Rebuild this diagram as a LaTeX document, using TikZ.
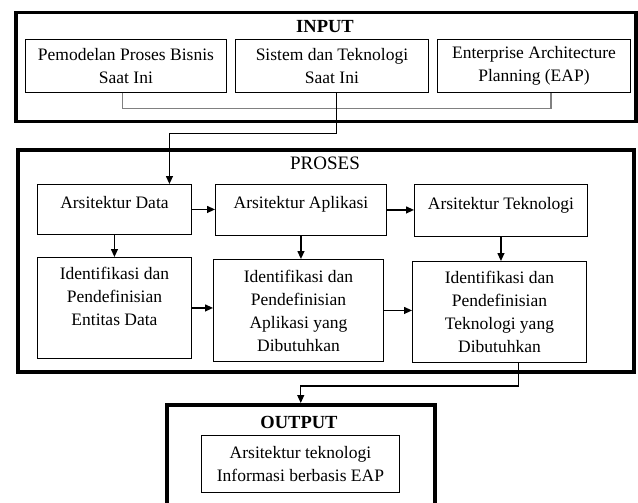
\documentclass[tikz,border=0pt]{standalone}
\usepackage{fontspec}
\setmainfont{Liberation Serif}
\usetikzlibrary{arrows.meta}

\tikzset{
  kotak/.style={draw, line width=0.9pt, align=center, inner sep=0pt, anchor=north west,
    font=\fontsize{17.5}{23}\selectfont},
  bingkai/.style={draw, line width=3.5pt, inner sep=0pt, anchor=north west},
  judul/.style={font=\fontsize{18.5}{22}\selectfont\bfseries},
  garis/.style={line width=1.2pt},
}

\begin{document}
\begin{tikzpicture}[x=1pt, y=-1pt, >={Triangle[length=8pt,width=7pt]}]
  \useasboundingbox (0,0) rectangle (638,503);
  \clip (0,0) rectangle (638,503);

  % input
  \node[bingkai, minimum width=620pt, minimum height=109pt] (input) at (14,11) {};
  \node[judul] (tInput) at (325,27) {INPUT};
  \node[kotak, minimum width=201pt, minimum height=53pt] (b1) at (25,39) {Pemodelan Proses Bisnis\\Saat Ini};
  \node[kotak, minimum width=193pt, minimum height=53pt] (b2) at (235,39) {Sistem dan Teknologi\\Saat Ini};
  \node[kotak, minimum width=193pt, minimum height=53pt] (b3) at (437,39) {Enterprise Architecture\\Planning (EAP)};

  % proses
  \node[bingkai, minimum width=616pt, minimum height=222pt] (proses) at (16,148) {};
  \node[font=\fontsize{19}{22}\selectfont] (tProses) at (325,163) {PROSES};
  \node[kotak, minimum width=154pt, minimum height=50pt] (AD) at (37,184) {Arsitektur Data\\[-8pt]~};
  \node[kotak, minimum width=171pt, minimum height=51pt] (AA) at (215,184) {Arsitektur Aplikasi\\[-8pt]~};
  \node[kotak, minimum width=173pt, minimum height=52pt] (AT) at (414,184) {Arsitektur Teknologi\\[-8pt]~};
  \node[kotak, minimum width=154pt, minimum height=101pt] (ED) at (37,257) {Identifikasi dan\\Pendefinisian\\Entitas Data\\~};
  \node[kotak, minimum width=170pt, minimum height=102pt] (AP) at (213,259) {Identifikasi dan\\Pendefinisian\\Aplikasi yang\\Dibutuhkan};
  \node[kotak, minimum width=174pt, minimum height=101pt] (TK) at (412,261) {Identifikasi dan\\Pendefinisian\\Teknologi yang\\Dibutuhkan};

  % output
  \node[bingkai, minimum width=268pt, minimum height=130pt] (output) at (165,403) {};
  \node[judul] (tOutput) at (299,422) {OUTPUT};
  \node[kotak, minimum width=198pt, minimum height=57pt] (hasil) at (201,435) {Arsitektur teknologi\\Informasi berbasis EAP};

  \draw[garis, gray] ([xshift=-3.5pt]b1.south) -- ++(0,16) -| ([xshift=17pt]b3.south);
  \draw[garis, ->] ([xshift=4.5pt]b2.south) -- ++(0,41) -| ([xshift=55pt]AD.north);

  \draw[garis, ->] (AD.east) -- (AD.east -| AA.west);
  \draw[garis, ->] (AA.east) -- (AA.east -| AT.west);
  \draw[garis, ->] (AD.south) -- (AD.south |- ED.north);
  \draw[garis, ->] (AA.south) -- (AA.south |- AP.north);
  \draw[garis, ->] (AT.south) -- (AT.south |- TK.north);
  \draw[garis, ->] (ED.east) -- (ED.east -| AP.west);
  \draw[garis, ->] (AP.east) -- (AP.east -| TK.west);

  \draw[garis, ->] ([xshift=19pt]TK.south) -- ++(0,23) -| (output.north);
\end{tikzpicture}
\end{document}
